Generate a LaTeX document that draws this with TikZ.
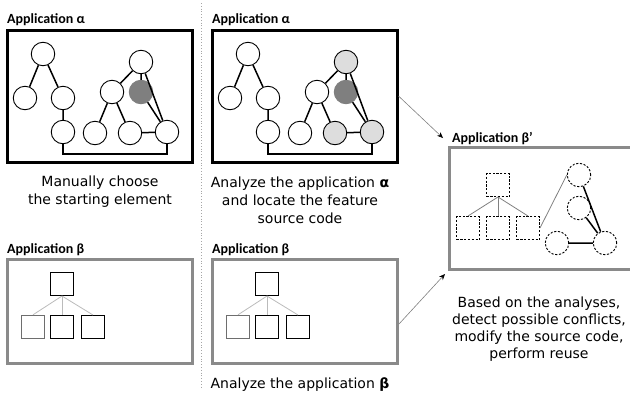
\documentclass[tikz,border=0pt]{standalone}
\usepackage{fontspec}
\setmainfont{DejaVu Sans}
\newfontfamily\headfont{Carlito}
\usepackage{tikz}
\usetikzlibrary{arrows.meta, positioning}
\definecolor{markgray}{HTML}{7F7F7F}
\definecolor{hitgray}{HTML}{DDDDDD}
\definecolor{framegray}{HTML}{8A8A8A}
\definecolor{edgegray}{HTML}{6E6E6E}
\definecolor{linkgray}{HTML}{BBBBBB}
\tikzset{
    elem/.style={circle, draw, line width=0.9pt, minimum size=23.5pt, inner sep=0pt},
    cls/.style={rectangle, draw, line width=1pt, minimum size=23pt, inner sep=0pt},
    ghost/.style={dash pattern=on 2.2pt off 1.6pt},
    appbox/.style={rectangle, draw, line width=3pt, minimum width=185pt, inner sep=0pt},
    apptitle/.style={anchor=base west, inner sep=0pt, font=\headfont\bfseries\fontsize{14}{16}\selectfont},
    capt/.style={align=center, anchor=north, inner sep=0pt, font=\fontsize{14}{18}\selectfont},
    tie/.style={line width=1.5pt},
    link/.style={draw=linkgray, line width=0.8pt},
    arrow/.style={-{Stealth[length=6pt, width=5pt, color=black]}, draw=gray, line width=0.6pt}
}

\begin{document}
\begin{tikzpicture}[x=1pt, y=-1pt]
\useasboundingbox (0,0) rectangle (630,394);
\clip (0,0) rectangle (630,394);

% dotted divider
\draw[gray!70, dotted, line width=0.8pt] (201.5,3) -- (201.5,388);

% application alpha: chosen element, then analysed
\foreach \dx/\pre/\hl in {0/a/white, 205/b/hitgray} {
  \begin{scope}[shift={(\dx,0)}]
    \node[appbox, minimum height=132pt] (\pre-box) at (99.5,96) {};
    \node[apptitle] (\pre-title) at (7,23) {Application α};
    \node[elem] (\pre1) at (43,54) {};
    \node[elem] (\pre2) at (25,98) {};
    \node[elem] (\pre3) at (63,98) {};
    \node[elem] (\pre4) at (63,132) {};
    \node[elem, fill=\hl] (\pre5) at (141,62) {};
    \node[elem] (\pre6) at (112,92) {};
    \node[elem, fill=markgray, draw=markgray] (\pre7) at (141,92) {};
    \node[elem] (\pre8) at (95,133) {};
    \node[elem, fill=\hl] (\pre9) at (130,133) {};
    \node[elem, fill=\hl] (\pre10) at (167,132) {};
    \draw[tie] (\pre1) -- (\pre2) (\pre1) -- (\pre3) (\pre3) -- (\pre4);
    \draw[tie] (\pre4.south) -- ++(0,10) -| (\pre10.south);
    \draw[tie] (\pre5) -- (\pre6) (\pre5) -- (\pre7) (\pre5) -- (\pre10) (\pre7) -- (\pre10);
    \draw[tie] (\pre6) -- (\pre8) (\pre6) -- (\pre9) (\pre9) -- (\pre10);
  \end{scope}
}

% application beta, twice
\foreach \dx/\pre in {0/c, 205/d} {
  \begin{scope}[shift={(\dx,0)}]
    \node[appbox, draw=framegray, minimum height=104pt] (\pre-box) at (100,311) {};
    \node[apptitle] (\pre-title) at (7,253) {Application β};
    \node[cls] (\pre1) at (62,284) {};
    \node[cls, draw=edgegray, line width=1.4pt] (\pre2) at (33,327) {};
    \node[cls] (\pre3) at (62,327) {};
    \node[cls] (\pre4) at (93,327) {};
    \foreach \k in {2,3,4} \draw[link] (\pre1.south) -- (\pre\k.north);
  \end{scope}
}

% application beta' after reuse
\node[appbox, draw=framegray, minimum height=122pt] (e-box) at (541.5,208) {};
\node[apptitle] (e-title) at (452,142) {Application β’};
\node[cls, ghost] (e1) at (498,185) {};
\node[cls, ghost] (e2) at (468,228) {};
\node[cls, ghost] (e3) at (498,228) {};
\node[cls, ghost] (e4) at (528,228) {};
\node[elem, ghost] (f1) at (579,175) {};
\node[elem, ghost] (f2) at (579,208) {};
\node[elem, ghost] (f3) at (557,243) {};
\node[elem, ghost] (f4) at (605,243) {};
\foreach \k in {2,3,4} \draw[link, draw=gray] (e1.south) -- (e\k.north);
\draw[link, draw=gray] (e4.east) -- (f1.west);
\draw[tie] (f1) -- (f4) (f2) -- (f4) (f3) -- (f4);

% captions
\node[capt] (a-caption) at (100,175.5) {Manually choose\\the starting element};
\node[capt] (b-caption) at (300,176.5) {Analyze the application {\bfseries α}\\and locate the feature\\source code};
\node[capt, anchor=base] (d-caption) at (300,388) {Analyze the application {\bfseries β}};
\node[capt, font=\fontsize{14}{17}\selectfont] (e-caption) at (539,296.5) {Based on the analyses,\\detect possible conflicts,\\modify the source code,\\perform reuse};

% flow into beta'
\coordinate (tipA) at (443,138);
\coordinate (tipB) at (445,274);
\draw[arrow] (b-box.east) -- (tipA);
\draw[arrow] ([yshift=-13pt]d-box.east) -- (tipB);
\end{tikzpicture}
\end{document}
